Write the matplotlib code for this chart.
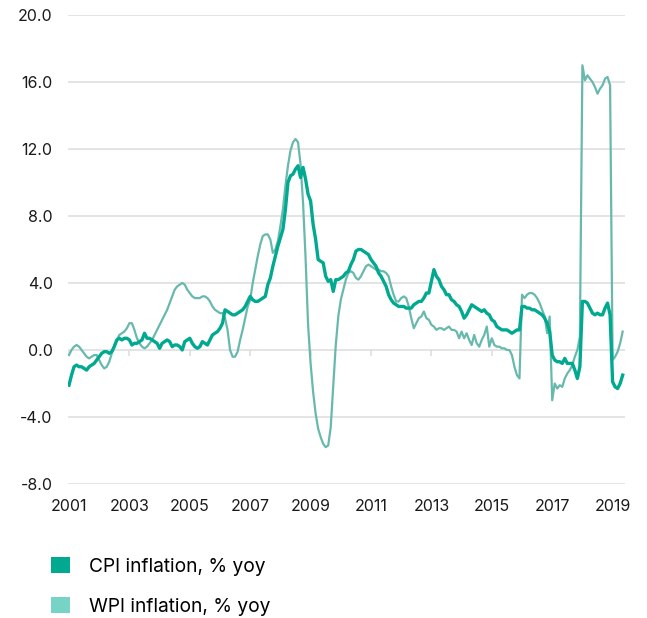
import numpy as np
import matplotlib
matplotlib.use("Agg")
import matplotlib.pyplot as plt
from matplotlib.patches import Patch

plt.rcParams['font.family'] = ['Inter', 'DejaVu Sans']

# monthly, Jan 2001 .. May 2019 (% yoy)
cpi = [
    -2.1, -1.5, -1.0, -0.9, -1.0, -1.0, -1.1, -1.2, -1.0, -0.9, -0.8, -0.6,   # 2001
    -0.4, -0.2, -0.1, -0.1, -0.2, -0.1, 0.2, 0.6, 0.7, 0.6, 0.7, 0.7,         # 2002
    0.6, 0.3, 0.4, 0.4, 0.5, 0.6, 1.0, 0.7, 0.7, 0.6, 0.5, 0.4,               # 2003
    0.1, 0.4, 0.5, 0.6, 0.5, 0.2, 0.3, 0.3, 0.2, 0.0, 0.5, 0.6,               # 2004
    0.7, 0.4, 0.2, 0.1, 0.2, 0.5, 0.4, 0.3, 0.6, 0.9, 1.0, 1.1,               # 2005
    1.3, 1.6, 2.4, 2.3, 2.2, 2.1, 2.1, 2.2, 2.3, 2.4, 2.6, 2.9,               # 2006
    3.2, 3.0, 2.9, 2.9, 3.0, 3.1, 3.2, 3.9, 4.3, 5.0, 5.6, 6.2,               # 2007
    6.7, 7.2, 8.4, 10.0, 10.4, 10.5, 10.8, 11.0, 10.3, 10.9, 10.2, 9.3,       # 2008
    8.9, 7.5, 6.6, 5.4, 5.3, 5.2, 4.4, 4.1, 4.2, 3.5, 4.2, 4.2,               # 2009
    4.3, 4.4, 4.6, 4.7, 5.1, 5.4, 5.9, 6.0, 6.0, 5.9, 5.8, 5.7,               # 2010
    5.4, 5.2, 5.0, 4.6, 4.4, 4.1, 3.8, 3.3, 3.0, 2.8, 2.7, 2.6,               # 2011
    2.6, 2.6, 2.5, 2.5, 2.5, 2.7, 2.8, 2.9, 2.9, 3.1, 3.4, 3.4,               # 2012
    4.1, 4.8, 4.4, 4.2, 3.8, 3.6, 3.3, 3.3, 3.0, 2.9, 2.7, 2.6,               # 2013
    2.3, 1.9, 2.1, 2.4, 2.7, 2.6, 2.5, 2.4, 2.3, 2.4, 2.2, 2.1,               # 2014
    1.8, 1.7, 1.4, 1.3, 1.2, 1.2, 1.2, 1.1, 1.0, 1.1, 1.2, 1.2,               # 2015
    2.6, 2.6, 2.5, 2.5, 2.4, 2.4, 2.3, 2.2, 2.1, 1.9, 1.6, 1.1,               # 2016
    -0.3, -0.6, -0.7, -0.7, -0.8, -0.5, -0.8, -0.8, -0.8, -1.2, -1.7, -1.0,   # 2017
    2.9, 2.9, 2.8, 2.5, 2.2, 2.1, 2.2, 2.1, 2.1, 2.5, 2.8, 2.1,               # 2018
    -1.9, -2.2, -2.3, -2.0, -1.5,                                             # 2019
]

wpi = [
    -0.3, 0.0, 0.2, 0.3, 0.2, 0.0, -0.2, -0.4, -0.5, -0.4, -0.3, -0.3,        # 2001
    -0.6, -0.9, -1.1, -1.0, -0.7, -0.2, 0.3, 0.6, 0.9, 1.0, 1.1, 1.3,         # 2002
    1.6, 1.6, 1.2, 0.7, 0.4, 0.2, 0.1, 0.2, 0.4, 0.6, 0.9, 1.2,               # 2003
    1.5, 1.8, 2.1, 2.4, 2.8, 3.2, 3.6, 3.8, 3.9, 4.0, 3.9, 3.6,               # 2004
    3.4, 3.2, 3.1, 3.1, 3.1, 3.2, 3.2, 3.1, 2.9, 2.6, 2.4, 2.3,               # 2005
    2.2, 2.2, 1.9, 1.2, 0.0, -0.4, -0.4, -0.1, 0.6, 1.2, 1.9, 2.6,            # 2006
    3.0, 4.0, 4.8, 5.6, 6.3, 6.8, 6.9, 6.9, 6.6, 5.8, 6.0, 6.5,               # 2007
    7.4, 8.4, 9.8, 11.0, 11.9, 12.4, 12.6, 12.4, 11.1, 8.8, 5.5, 1.5,         # 2008
    -0.8, -2.5, -3.8, -4.7, -5.2, -5.6, -5.8, -5.7, -4.6, -2.2, 0.3, 2.0,     # 2009
    3.0, 3.6, 4.2, 4.6, 4.7, 4.6, 4.3, 4.2, 4.4, 4.7, 5.0, 5.1,               # 2010
    5.0, 4.9, 4.8, 4.8, 4.7, 4.7, 4.6, 4.4, 3.8, 3.3, 2.9, 2.9,               # 2011
    3.1, 3.2, 3.1, 2.6, 1.9, 1.3, 1.6, 1.9, 2.0, 2.3, 1.9, 1.8,               # 2012
    1.5, 1.4, 1.2, 1.3, 1.3, 1.2, 1.3, 1.4, 1.2, 1.2, 1.1, 0.7,               # 2013
    1.1, 0.7, 1.0, 0.6, 0.3, 0.9, 0.4, 0.2, 0.6, 0.9, 1.4, 0.2,               # 2014
    0.7, 0.3, 0.2, 0.2, 0.1, 0.1, 0.0, 0.0, -0.3, -1.0, -1.5, -1.7,           # 2015
    3.3, 3.1, 3.3, 3.4, 3.4, 3.3, 3.1, 2.8, 2.4, 2.0, 1.0, 2.0,               # 2016
    -3.0, -2.0, -2.3, -2.1, -2.2, -1.7, -1.4, -1.2, -0.9, -0.4, 0.0, 0.8,     # 2017
    17.0, 16.1, 16.4, 16.2, 16.0, 15.7, 15.3, 15.6, 15.8, 16.2, 16.3, 15.8,   # 2018
    -0.6, -0.4, -0.1, 0.4, 1.1,                                               # 2019
]

dates = 2001 + np.arange(len(cpi)) / 12.0
tick_years = list(range(2001, 2020, 2))
y_ticks = [-8, -4, 0, 4, 8, 12, 16, 20]

cpi_color = '#00a990'
wpi_color = '#68b9ad'
wpi_patch = '#76d3c6'
grid_color = '#dddddd'

fig = plt.figure(figsize=(6.47, 6.18), dpi=100)
ax = fig.add_axes([68 / 647, 1 - 484 / 618, 557 / 647, 469 / 618])

for v in y_ticks:
    ax.axhline(v, color=grid_color, lw=1.1, zorder=1)
ax.vlines(tick_years, -0.35, 0, color=grid_color, lw=1.1, zorder=1)

ax.plot(dates, wpi, color=wpi_color, lw=1.6, zorder=2)
ax.plot(dates, cpi, color=cpi_color, lw=2.4, zorder=3)

ax.set_xlim(2001 - 1 / 30.2, 2001 + 556 / 30.2)
ax.set_ylim(-8, 20)
ax.set_xticks(tick_years)
ax.set_xticklabels([str(y) for y in tick_years])
ax.set_yticks(y_ticks)
ax.set_yticklabels([f'{v:.1f}' for v in y_ticks])
ax.tick_params(axis='both', length=0, labelsize=11.5, colors='#1a1a1a')
ax.tick_params(axis='x', pad=11)
ax.tick_params(axis='y', pad=11)
for s in ax.spines.values():
    s.set_visible(False)

handles = [Patch(facecolor=cpi_color, edgecolor='none'),
           Patch(facecolor=wpi_patch, edgecolor='none')]
fig.legend(handles, ['CPI inflation, % yoy', 'WPI inflation, % yoy'],
           loc='upper left', bbox_to_anchor=(51 / 647, 1 - 557 / 618),
           frameon=False, fontsize=13.8, handlelength=1.0, handleheight=0.9,
           handletextpad=1.0, labelspacing=1.12, borderpad=0, borderaxespad=0)

fig.savefig('out.png', dpi=100)
